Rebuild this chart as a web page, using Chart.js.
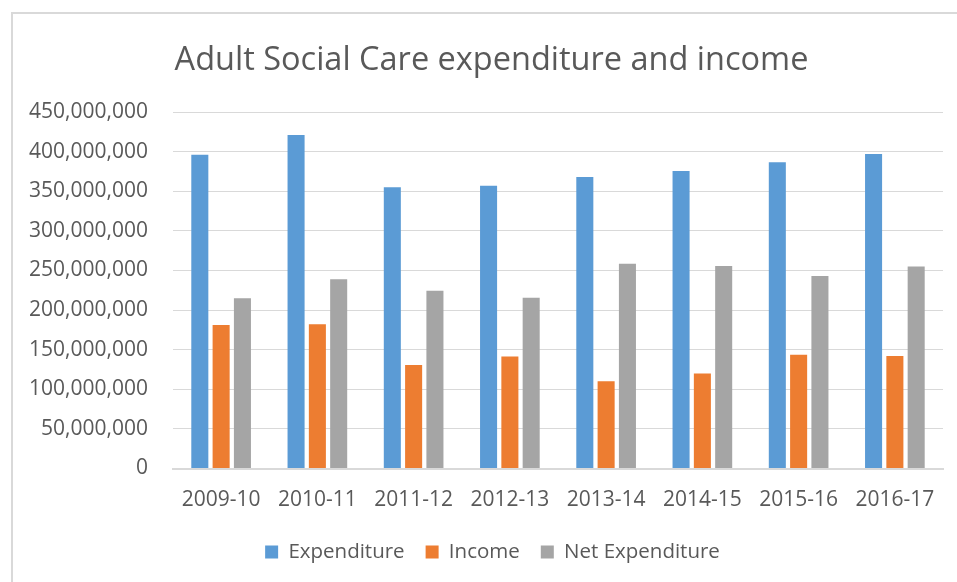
<!DOCTYPE html>
<html>
<head>
<meta charset="utf-8">
<script src="https://cdn.jsdelivr.net/npm/chart.js@4/dist/chart.umd.min.js"></script>
<style>
  html, body { margin: 0; padding: 0; background: #ffffff; }
  #wrap { position: relative; width: 957px; height: 582px; overflow: hidden; }
  #frame { position: absolute; left: 11px; top: 12px; right: -2px; bottom: -2px; border-left: 2px solid #d9d9d9; border-top: 2px solid #d9d9d9; }
  canvas { position: absolute; left: 0; top: 0; }
</style>
</head>
<body>
<div id="wrap">
  <div id="frame"></div>
  <canvas id="c" width="957" height="582"></canvas>
</div>
<script>
const categories = ["2009-10", "2010-11", "2011-12", "2012-13", "2013-14", "2014-15", "2015-16", "2016-17"];
const expenditure = [396000000, 421000000, 355000000, 357000000, 368000000, 375500000, 386500000, 397000000];
const income = [181000000, 182000000, 130500000, 141500000, 110000000, 120000000, 143600000, 142000000];
const netExpenditure = [215000000, 239000000, 224500000, 215500000, 258500000, 255500000, 243000000, 255000000];
const seriesNames = ["Expenditure", "Income", "Net Expenditure"];
const titleText = "Adult Social Care expenditure and income";
const yMin = 0, yMax = 450000000, yStep = 50000000;

const FONT = "'Open Sans', 'DejaVu Sans', sans-serif";
const TEXT = "#595959";

// centre title and legend on the framed area rather than the full canvas
const centreShift = {
  id: 'centreShift',
  afterLayout(chart) {
    const t = chart.titleBlock;
    if (t) { t.left += 20; t.right += 20; }
    const l = chart.legend;
    if (l) { l.left += 21; l.right += 21; }
  }
};

new Chart(document.getElementById('c'), {
  type: 'bar',
  plugins: [centreShift],
  data: {
    labels: categories,
    datasets: [
      { label: seriesNames[0], data: expenditure, backgroundColor: '#5B9BD5' },
      { label: seriesNames[1], data: income, backgroundColor: '#ED7D31' },
      { label: seriesNames[2], data: netExpenditure, backgroundColor: '#A5A5A5' }
    ]
  },
  options: {
    responsive: false,
    animation: false,
    devicePixelRatio: 1,
    layout: { padding: { left: 0, right: 14, top: 0, bottom: 9.75 } },
    datasets: { bar: { categoryPercentage: 0.664, barPercentage: 0.8 } },
    plugins: {
      title: {
        display: true,
        text: titleText,
        color: TEXT,
        font: { family: FONT, size: 32.5, weight: 'normal' },
        padding: { top: 41, bottom: 32 }
      },
      legend: {
        position: 'bottom',
        labels: {
          color: TEXT,
          font: { family: FONT, size: 20.5 },
          boxWidth: 13,
          boxHeight: 13,
          padding: 21
        }
      },
      tooltip: { enabled: false }
    },
    scales: {
      x: {
        grid: { display: false, drawTicks: false },
        border: { display: true, color: '#d9d9d9', width: 2 },
        ticks: { color: TEXT, font: { family: FONT, size: 21 }, padding: 19, maxRotation: 0 },
        afterFit: (s) => { s.height = 52.25; }
      },
      y: {
        min: yMin, max: yMax,
        grid: { color: '#d9d9d9', lineWidth: 1, drawTicks: false },
        border: { display: false },
        ticks: {
          stepSize: yStep,
          color: TEXT,
          font: { family: FONT, size: 21 },
          padding: 25,
          callback: (v) => Number(v).toLocaleString('en-US')
        },
        afterFit: (s) => { s.width = 173; }
      }
    }
  }
});
</script>
</body>
</html>
